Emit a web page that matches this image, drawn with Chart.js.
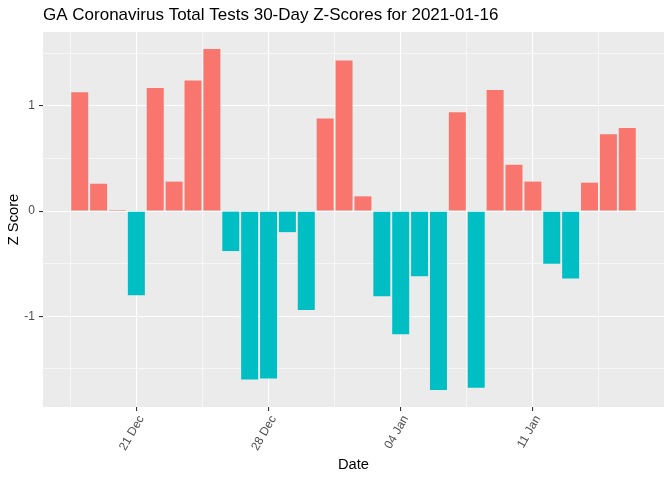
<!DOCTYPE html>
<html>
<head>
<meta charset="utf-8">
<script src="https://cdn.jsdelivr.net/npm/chart.js@4"></script>
<style>
  html, body { margin: 0; padding: 0; background: #ffffff; }
  #wrap { width: 672px; height: 480px; }
</style>
</head>
<body>
<div id="wrap"><canvas id="chart"></canvas></div>
<script>
// dates and z-scores
const dates = [
  '2020-12-18', '2020-12-19', '2020-12-20', '2020-12-21', '2020-12-22',
  '2020-12-23', '2020-12-24', '2020-12-25', '2020-12-26', '2020-12-27',
  '2020-12-28', '2020-12-29', '2020-12-30', '2020-12-31', '2021-01-01',
  '2021-01-02', '2021-01-03', '2021-01-04', '2021-01-05', '2021-01-06',
  '2021-01-07', '2021-01-08', '2021-01-09', '2021-01-10', '2021-01-11',
  '2021-01-12', '2021-01-13', '2021-01-14', '2021-01-15', '2021-01-16'
];
const zScores = [
  1.13, 0.26, 0.01, -0.80, 1.17, 0.28, 1.24, 1.54, -0.38, -1.60,
  -1.59, -0.20, -0.94, 0.88, 1.43, 0.14, -0.81, -1.17, -0.62, -1.70,
  0.94, -1.68, 1.15, 0.44, 0.28, -0.50, -0.64, 0.27, 0.73, 0.79
];
const tickDates = ['2020-12-21', '2020-12-28', '2021-01-04', '2021-01-11'];
const tickLabels = ['21 Dec', '28 Dec', '04 Jan', '11 Jan'];
const yTickLabels = ['-1', '0', '1'];

const POS = '#F8766D';
const NEG = '#00BFC4';
const DAY = 864e5;
const t0 = Date.parse(dates[0]);
const dayIndex = d => (Date.parse(d) - t0) / DAY;

const points = dates.map((d, i) => ({ x: dayIndex(d), y: zScores[i] }));
const majorX = tickDates.map(dayIndex);
const minorX = majorX.map(v => v - 3.5).concat([majorX[majorX.length - 1] + 3.5]);

// ggplot-style 5% expansion around the bars
const xLo = -0.45, xHi = points[points.length - 1].x + 0.45;
const xPad = (xHi - xLo) * 0.05;
const yLo = Math.min(0, ...zScores), yHi = Math.max(0, ...zScores);
const yPad = (yHi - yLo) * 0.05;

const majorY = yTickLabels.map(Number);
const minorY = [-1.5, -0.5, 0.5, 1.5];

const panelBg = {
  id: 'panelBg',
  beforeDraw(chart) {
    const { ctx, chartArea: a } = chart;
    ctx.save();
    ctx.fillStyle = '#EBEBEB';
    ctx.fillRect(a.left, a.top, a.right - a.left, a.bottom - a.top);
    ctx.restore();
  }
};

const near = (list, v) => list.some(m => Math.abs(m - v) < 1e-6);
const major = list => c => !!(c.tick && near(list, c.tick.value));

const isMajorX = major(majorX);
const isMajorY = major(majorY);

new Chart(document.getElementById('chart'), {
  type: 'bar',
  data: {
    datasets: [{
      data: points,
      backgroundColor: zScores.map(v => v >= 0 ? POS : NEG),
      borderWidth: 0,
      barPercentage: 0.9,
      categoryPercentage: 1.0
    }]
  },
  plugins: [panelBg],
  options: {
    responsive: true,
    maintainAspectRatio: false,
    animation: false,
    layout: { padding: { left: 0, right: 8, top: 0, bottom: 0 } },
    plugins: {
      legend: { display: false },
      tooltip: { enabled: false },
      title: {
        display: true,
        text: 'GA Coronavirus Total Tests 30-Day Z-Scores for 2021-01-16',
        align: 'start',
        fullSize: false,
        color: '#000000',
        font: { family: 'Liberation Sans, Arial, sans-serif', size: 17, weight: 'normal' },
        padding: { top: 5, bottom: 6.6 }
      }
    },
    scales: {
      x: {
        type: 'linear',
        min: xLo - xPad,
        max: xHi + xPad,
        offset: false,
        afterBuildTicks(scale) {
          scale.ticks = minorX.concat(majorX).sort((a, b) => a - b).map(v => ({ value: v }));
        },
        afterFit(scale) { scale.height = 73; },
        border: { display: false },
        grid: {
          offset: false,
          color: '#FFFFFF',
          lineWidth: c => isMajorX(c) ? 1.1 : 0.55,
          tickColor: c => isMajorX(c) ? '#333333' : 'rgba(0,0,0,0)',
          tickLength: 4,
          tickWidth: 1.1
        },
        ticks: {
          autoSkip: false,
          minRotation: 60,
          maxRotation: 60,
          padding: 2,
          labelOffset: 5,
          color: '#4D4D4D',
          font: { family: 'Liberation Sans, Arial, sans-serif', size: 12 },
          callback: v => {
            const i = majorX.findIndex(m => Math.abs(m - v) < 1e-6);
            return i >= 0 ? tickLabels[i] : '';
          }
        },
        title: {
          display: true,
          text: 'Date',
          color: '#000000',
          font: { family: 'Liberation Sans, Arial, sans-serif', size: 14.7 },
          padding: { top: 0, bottom: 6 }
        }
      },
      y: {
        type: 'linear',
        min: yLo - yPad,
        max: yHi + yPad,
        afterBuildTicks(scale) {
          scale.ticks = minorY.concat(majorY).sort((a, b) => a - b).map(v => ({ value: v }));
        },
        afterFit(scale) { scale.width = 43; },
        border: { display: false },
        grid: {
          color: '#FFFFFF',
          lineWidth: c => isMajorY(c) ? 1.1 : 0.55,
          tickColor: c => isMajorY(c) ? '#333333' : 'rgba(0,0,0,0)',
          tickLength: 4,
          tickWidth: 1.1
        },
        ticks: {
          autoSkip: false,
          padding: 4,
          color: '#4D4D4D',
          font: { family: 'Liberation Sans, Arial, sans-serif', size: 12 },
          callback: v => {
            const i = majorY.findIndex(m => Math.abs(m - v) < 1e-6);
            return i >= 0 ? yTickLabels[i] : '';
          }
        },
        title: {
          display: true,
          text: 'Z Score',
          color: '#000000',
          font: { family: 'Liberation Sans, Arial, sans-serif', size: 14.7 },
          padding: { top: 5, bottom: 0 }
        }
      }
    }
  }
});
</script>
</body>
</html>
